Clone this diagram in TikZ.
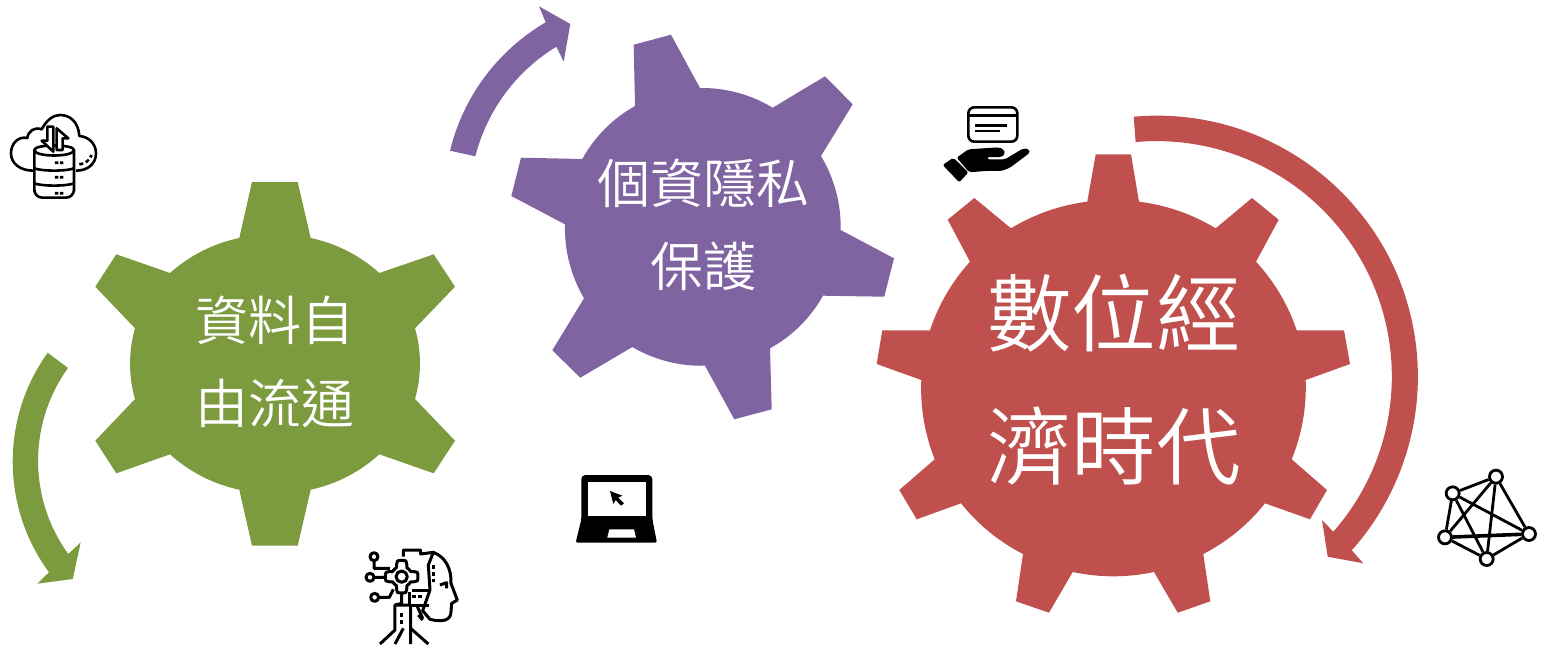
\documentclass[tikz,border=0pt]{standalone}
\usepackage{fontspec}
\setmainfont{Noto Sans CJK TC DemiLight}

\definecolor{gearGreen}{HTML}{7C9A3E}
\definecolor{gearPurple}{HTML}{8064A2}
\definecolor{gearRed}{HTML}{C0504D}

\begin{document}
\begin{tikzpicture}
    [
      x=0.5pt,y=-0.5pt,
      green-gear/.style={fill=gearGreen},
      purple-gear/.style={fill=gearPurple},
      red-gear/.style={fill=gearRed},
      rim/.style={bend left=#1,looseness=0.87},
      small-label/.style={text=white,align=center,inner sep=0pt,font=\fontsize{26.5}{41.5}\selectfont},
      big-label/.style={text=white,align=center,inner sep=0pt,font=\fontsize{42.3}{66.5}\selectfont},
      icon/.style={draw=black,line width=1.3pt,line join=round},
      dots/.style={draw=black,line width=1.3pt,dash pattern=on 2pt off 1.4pt},
      solid-icon/.style={fill=black,rounded corners=1pt},
      hub/.style={circle,draw=black,fill=white,line width=1.4pt,minimum size=6.5pt,inner sep=0pt},
      link/.style={line width=1.4pt},
      fat-link/.style={line width=1.8pt},
    ]

    \useasboundingbox (0,0) rectangle (1543,644);

    \fill [green-gear] (239.3,238) -- (252,182) -- (297.7,182) -- (310.7,238)
      to[rim=15] (379.3,273) -- (433.7,254.3) -- (455,286.7) -- (415,328.3)
      to[rim=16] (415,399) -- (455,440.7) -- (433.7,473.3) -- (379.3,454.3)
      to[rim=15] (310.7,489.7) -- (297.7,545.7) -- (252,545.7) -- (239.3,489.7)
      to[rim=15] (170,454.3) -- (116.3,473.3) -- (95.3,440.7) -- (135,399)
      to[rim=16] (135,328.3) -- (95.3,286.7) -- (116.3,254.3) -- (170,273)
      to[rim=15] (239.3,238) -- cycle;

    \fill [purple-gear] (635,106) -- (633.7,44.7) -- (671,34.7) -- (700,88)
      to[rim=16] (772.7,107.7) -- (825,76.3) -- (852.7,104.3) -- (821,156)
      to[rim=16] (840.7,230) -- (894,258.3) -- (884.3,296.7) -- (823,295.7)
      to[rim=16] (770,348.3) -- (771.7,409.3) -- (734.3,419.3) -- (705,365.7)
      to[rim=16] (632.3,347) -- (580.3,377.7) -- (552.3,350.3) -- (584,298.3)
      to[rim=16] (565,224.3) -- (511.3,196) -- (521,157.7) -- (582.3,159)
      to[rim=16] (635,106) -- cycle;

    \fill [red-gear] (1087.3,201.7) -- (1095.7,154.3) -- (1131,154.3) -- (1139,201.7)
      to[rim=12] (1215.7,228.3) -- (1252,198) -- (1278.7,219.7) -- (1256,261.7)
      to[rim=12] (1296.7,330.3) -- (1344,330.3) -- (1350,364) -- (1305.7,380)
      to[rim=12] (1291.7,459.3) -- (1327,490) -- (1310,519.3) -- (1265,503.3)
      to[rim=12] (1203.3,554) -- (1210.3,601.3) -- (1177.7,612.7) -- (1154,572)
      to[rim=12] (1072.7,572) -- (1049,612.7) -- (1016,601.3) -- (1023,554)
      to[rim=12] (961,503.3) -- (916.7,519.3) -- (899.3,490) -- (934.7,459.3)
      to[rim=12] (921.3,380) -- (876.7,364) -- (882.3,330.3) -- (930,330.3)
      to[rim=12] (970,261.7) -- (947.7,219.7) -- (974.3,198) -- (1011,228.3)
      to[rim=12] (1087.3,201.7) -- cycle;

    \node (green-text) [small-label] at (275,362) {資料自\\由流通};
    \node (purple-text) [small-label] at (703,225) {個資隱私\\保護};
    \node (red-text) [big-label] at (1114,380) {數位經\\濟時代};

    \fill [green-gear] (47.7,352.7) to[bend right=36,looseness=0.94] (49,572.3) -- (37.3,583.7)
      -- (72.7,579) -- (80.7,542.3) -- (68.3,554) to[bend left=36,looseness=0.94] (68,368) -- cycle;

    \fill [purple-gear] (450,150.7) to[bend left=23,looseness=0.89] (545.7,22.3) -- (539,6.3)
      -- (570.3,24) -- (563.7,61.7) -- (556.3,46.7) to[bend right=22,looseness=0.89] (475.3,156.3) -- cycle;

    \fill [red-gear] (1133.7,116.7) arc[start angle=-95.1,end angle=41.7,radius=261]
      -- (1363.3,563.3) -- (1327.7,556.7) -- (1322,520) -- (1333.3,531.7)
      arc[start angle=41.3,end angle=-95.1,radius=235.3] -- cycle;

    \begin{scope}[shift={(0,100)},scale=0.3333]
      \draw [icon] (100,212) .. controls (60,212) and (33,190) .. (33,160)
        .. controls (33,130) and (55,108) .. (82,114)
        .. controls (85,92) and (105,80) .. (125,88)
        .. controls (140,60) and (160,45) .. (180,45)
        .. controls (210,45) and (235,65) .. (238,108)
        .. controls (265,110) and (288,130) .. (288,160)
        .. controls (288,190) and (265,212) .. (228,212);
      \draw [dots] (238,193) .. controls (255,192) and (268,182) .. (275,165);
      \draw [icon,fill=white] (103,150) .. controls (103,132) and (222,132) .. (222,150)
        [rounded corners=4pt] -- (222,205) -- (222,250) -- (222,293) -- (103,293) -- (103,250) -- (103,205) [sharp corners] -- cycle;
      \draw [icon] (103,150) .. controls (103,172) and (222,172) .. (222,150);
      \draw [icon] (103,205) .. controls (125,214) and (200,214) .. (222,205);
      \draw [icon] (103,250) .. controls (125,259) and (200,259) .. (222,250);
      \draw [icon,fill=white] (142,80) -- (160,80) -- (160,155) -- (125,122) -- (142,122) -- cycle;
      \draw [icon,fill=white] (170,150) -- (188,150) -- (188,115) -- (205,115) -- (170,85) -- cycle;
      \foreach \row in {188,232,280}
        \fill (165,\row-4) rectangle (175,\row+4) (180,\row-4) rectangle (190,\row+4);
    \end{scope}

    \begin{scope}[shift={(350,540)},scale=0.3333,line width=1.5pt]
      \draw [icon,line width=1.5pt] (160,50) -- (160,30) -- (212,30) -- (212,42) -- (250,37)
        .. controls (285,50) and (305,85) .. (303,130) -- (322,180) -- (305,190) -- (303,215)
        .. controls (303,240) and (280,248) .. (240,238) -- (218,212) -- (240,150) -- (235,75) -- (250,37);
      \draw [icon,line width=1.5pt] plot [domain=0:360,samples=49]
        ({155+(40+9*sign(cos(4*\x)))*cos(\x)},{110+(40+9*sign(cos(4*\x)))*sin(\x)});
      \draw [icon,line width=1.5pt] (155,110) circle (17);
      \draw [icon,line width=1.5pt] (72,50) circle (12) (60,112) circle (12) (74,172) circle (12);
      \draw [icon,line width=1.5pt] (72,62) -- (72,85) -- (120,85) (72,112) -- (108,112) (86,172) -- (118,172) -- (130,148);
      \draw [icon,line width=1.5pt] (185,152) -- (240,152) (178,155) -- (178,195) -- (238,195);
      \draw [icon,line width=1.5pt] (155,158) -- (155,190) -- (135,195) -- (135,270) -- (90,312);
      \draw [icon,line width=1.5pt] (135,195) -- (182,195) -- (182,265) -- (235,312);
      \draw [icon,line width=1.5pt] (160,265) -- (135,312) (182,265) -- (182,312);
      \draw [icon,line width=1.5pt] (205,225) -- (218,240) (200,195) -- (218,235);
      \draw [dots] (250,75) -- (250,125);
      \draw [icon,line width=1.5pt] (270,135) -- (290,128) -- (290,145);
      \draw [dots] (185,170) -- (215,170);
      \draw [dots] (155,220) -- (155,255);
    \end{scope}

    \begin{scope}[shift={(560,460)},scale=0.3333]
      \fill [rounded corners=2pt] (64,178) -- (64,45) -- (277,45) -- (277,178) -- (277,178) [rounded corners=1pt] -- (291,248) -- (47,248) -- (64,178) -- cycle;
      \fill [white] (83,65) rectangle (258,168);
      \fill [white] (148,208) -- (222,208) -- (228,233) -- (142,233) -- cycle;
      \fill (150,93) -- (187,107) -- (175,113) -- (192,130) -- (183,137) -- (167,120) -- (160,132) -- cycle;
    \end{scope}

    \begin{scope}[shift={(930,95)},scale=0.3333]
      \draw [icon,rounded corners=3pt] (115,37) rectangle (262,140);
      \draw [icon] (115,62) -- (262,62);
      \draw [icon] (135,92) -- (232,92) (135,108) -- (210,108);
      \fill [solid-icon] (38,210) -- (70,188) -- (115,232) -- (88,262) -- cycle;
      \fill [solid-icon] (80,188) -- (115,163) -- (205,157) -- (222,163) -- (225,178) -- (215,186)
        -- (172,186) -- (172,193) -- (225,193) -- (280,160) -- (298,163) -- (300,173)
        -- (240,218) -- (215,228) -- (165,228) -- (118,232) -- cycle;
    \end{scope}

    \begin{scope}[shift={(1425,460)},scale=0.3333]
      \node (net-a) [hub] at (213,50) {};
      \node (net-b) [hub] at (83,100) {};
      \node (net-c) [hub] at (60,232) {};
      \node (net-d) [hub] at (185,297) {};
      \node (net-e) [hub] at (312,222) {};
      \path
      (net-a) edge [link] (net-b)
      (net-a) edge [link] (net-c)
      (net-a) edge [link] (net-d)
      (net-a) edge [link] (net-e)
      (net-b) edge [link] (net-c)
      (net-b) edge [link] (net-d)
      (net-b) edge [link] (net-e)
      (net-c) edge [link] (net-d)
      (net-c) edge [fat-link] (net-e)
      (net-d) edge [link] (net-e)
      ;
    \end{scope}

  \end{tikzpicture}
\end{document}
